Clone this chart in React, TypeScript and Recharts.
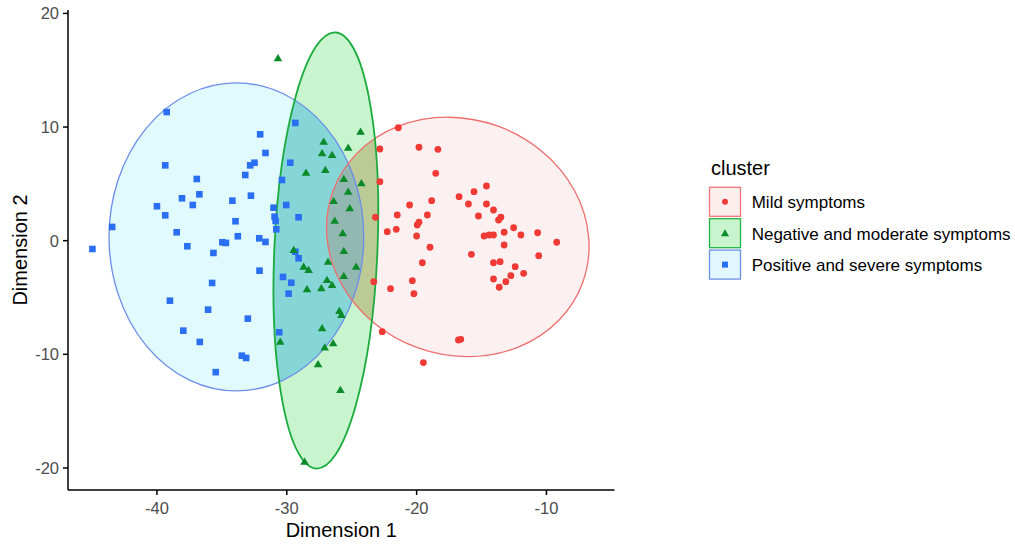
import { ReferenceArea, Scatter, ScatterChart, XAxis, YAxis } from "recharts";

type Pt = { x: number; y: number };

const xDomain: [number, number] = [-46.85, -4.76];
const yDomain: [number, number] = [-21.94, 20.3];
const xTicks = [-40, -30, -20, -10];
const yTicks = [-20, -10, 0, 10, 20];

const clusterNames = ["Mild symptoms", "Negative and moderate symptoms", "Positive and severe symptoms"];

const mild: Pt[] = [
  { x: -21.41, y: 9.94 }, { x: -22.83, y: 8.07 }, { x: -19.82, y: 8.22 }, { x: -18.36, y: 8.04 },
  { x: -18.53, y: 5.93 }, { x: -22.83, y: 5.19 }, { x: -14.62, y: 4.81 }, { x: -15.58, y: 4.31 },
  { x: -16.73, y: 3.87 }, { x: -18.84, y: 3.52 }, { x: -20.54, y: 3.14 }, { x: -16.01, y: 3.23 },
  { x: -14.62, y: 3.23 }, { x: -14.08, y: 2.7 }, { x: -23.17, y: 2.06 }, { x: -21.49, y: 2.26 },
  { x: -19.17, y: 2.26 }, { x: -15.24, y: 2.17 }, { x: -13.51, y: 2.06 }, { x: -13.69, y: 1.82 },
  { x: -19.82, y: 1.62 }, { x: -19.95, y: 1.38 }, { x: -22.26, y: 0.79 }, { x: -21.57, y: 1.0 },
  { x: -12.53, y: 1.14 }, { x: -13.26, y: 0.74 }, { x: -11.97, y: 0.5 }, { x: -10.68, y: 0.7 },
  { x: -20.0, y: 0.41 }, { x: -14.8, y: 0.41 }, { x: -14.42, y: 0.5 }, { x: -14.08, y: 0.5 },
  { x: -9.21, y: -0.14 }, { x: -13.26, y: -0.38 }, { x: -18.97, y: -0.58 }, { x: -15.78, y: -1.2 },
  { x: -10.6, y: -1.32 }, { x: -19.56, y: -1.94 }, { x: -14.08, y: -1.94 }, { x: -13.57, y: -1.85 },
  { x: -12.41, y: -2.29 }, { x: -11.76, y: -2.87 }, { x: -12.74, y: -3.08 }, { x: -13.13, y: -3.61 },
  { x: -14.08, y: -3.37 }, { x: -13.64, y: -4.1 }, { x: -23.3, y: -3.61 }, { x: -22.01, y: -4.22 },
  { x: -20.33, y: -3.52 }, { x: -20.21, y: -4.66 }, { x: -22.65, y: -8.01 }, { x: -16.78, y: -8.74 },
  { x: -16.6, y: -8.68 }, { x: -19.48, y: -10.73 },
];

const negative: Pt[] = [
  { x: -30.68, y: 16.05 }, { x: -24.32, y: 9.59 }, { x: -27.16, y: 8.71 }, { x: -25.27, y: 8.18 },
  { x: -27.28, y: 7.69 }, { x: -26.51, y: 7.54 }, { x: -27.03, y: 6.22 }, { x: -28.52, y: 5.98 },
  { x: -25.61, y: 5.43 }, { x: -24.25, y: 5.05 }, { x: -25.27, y: 4.31 }, { x: -26.39, y: 3.49 },
  { x: -25.15, y: 2.85 }, { x: -26.31, y: 1.76 }, { x: -25.69, y: 0.65 }, { x: -29.47, y: -0.82 },
  { x: -25.61, y: -0.91 }, { x: -26.82, y: -1.85 }, { x: -28.7, y: -2.29 }, { x: -28.32, y: -2.58 },
  { x: -24.66, y: -2.29 }, { x: -25.61, y: -3.11 }, { x: -26.9, y: -3.46 }, { x: -26.51, y: -3.9 },
  { x: -28.44, y: -4.28 }, { x: -27.34, y: -4.19 }, { x: -25.95, y: -6.19 }, { x: -25.79, y: -6.54 },
  { x: -27.28, y: -7.71 }, { x: -30.5, y: -8.89 }, { x: -27.08, y: -9.41 }, { x: -26.43, y: -9.03 },
  { x: -27.59, y: -10.88 }, { x: -25.87, y: -13.14 }, { x: -28.63, y: -19.45 },
];

const positive: Pt[] = [
  { x: -39.25, y: 11.32 }, { x: -32.05, y: 9.36 }, { x: -31.64, y: 7.72 }, { x: -39.36, y: 6.63 },
  { x: -32.82, y: 6.63 }, { x: -32.49, y: 6.86 }, { x: -33.2, y: 5.78 }, { x: -36.93, y: 5.43 },
  { x: -38.07, y: 3.73 }, { x: -36.73, y: 4.08 }, { x: -37.24, y: 3.14 }, { x: -34.19, y: 3.52 },
  { x: -32.76, y: 3.96 }, { x: -40.0, y: 3.03 }, { x: -39.36, y: 2.23 }, { x: -43.45, y: 1.21 },
  { x: -33.95, y: 1.71 }, { x: -38.48, y: 0.74 }, { x: -33.77, y: 0.39 }, { x: -34.96, y: -0.14 },
  { x: -34.69, y: -0.2 }, { x: -37.66, y: -0.49 }, { x: -35.65, y: -1.08 }, { x: -32.12, y: 0.21 },
  { x: -31.64, y: -0.11 }, { x: -44.97, y: -0.73 }, { x: -32.1, y: -2.64 }, { x: -35.75, y: -3.72 },
  { x: -39.0, y: -5.28 }, { x: -36.06, y: -6.07 }, { x: -33.0, y: -6.86 }, { x: -37.97, y: -7.92 },
  { x: -36.7, y: -8.91 }, { x: -33.46, y: -10.12 }, { x: -33.13, y: -10.32 }, { x: -35.47, y: -11.57 },
  { x: -31.02, y: 2.9 }, { x: -30.94, y: 2.11 }, { x: -30.86, y: 1.73 }, { x: -30.81, y: 1.0 },
  { x: -30.37, y: 5.34 }, { x: -29.73, y: 6.86 }, { x: -29.34, y: 10.36 }, { x: -30.04, y: 3.14 },
  { x: -29.09, y: 2.06 }, { x: -30.29, y: -3.19 }, { x: -29.65, y: -3.7 }, { x: -29.86, y: -4.66 },
  { x: -30.58, y: -8.06 }, { x: -29.34, y: -0.97 }, { x: -29.09, y: -1.55 },
];

// confidence ellipses: centre and semi-axes in data units, tilt in degrees
type Ell = { cx: number; cy: number; rx: number; ry: number; tilt: number };
const mildEllipse: Ell = { cx: -16.83, cy: 0.33, rx: 10.24, ry: 10.37, tilt: 20 };
const negativeEllipse: Ell = { cx: -26.99, cy: -0.86, rx: 3.97, ry: 19.21, tilt: 2.5 };
const positiveEllipse: Ell = { cx: -33.88, cy: 0.33, rx: 9.81, ry: 13.55, tilt: 0 };

const RED = "#f03a36";
const GREEN = "#0b8a2a";
const BLUE = "#2a6ef2";
const FONT = '"Liberation Sans", Arial, sans-serif';

function Ellipses(props: any) {
  const { x, y, width, height } = props;
  const kx = width / (xDomain[1] - xDomain[0]);
  const ky = height / (yDomain[1] - yDomain[0]);
  const sx = (v: number) => x + (v - xDomain[0]) * kx;
  const sy = (v: number) => y + (yDomain[1] - v) * ky;
  const el = (e: Ell, rest: any) => {
    const cx = sx(e.cx);
    const cy = sy(e.cy);
    return (
      <ellipse cx={cx} cy={cy} rx={e.rx * kx} ry={e.ry * ky} transform={`rotate(${e.tilt} ${cx} ${cy})`} {...rest} />
    );
  };
  return (
    <g>
      <defs>
        <clipPath id="clip-pos">{el(positiveEllipse, {})}</clipPath>
        <clipPath id="clip-mild">{el(mildEllipse, {})}</clipPath>
      </defs>
      {el(positiveEllipse, { fill: "#e1fafe" })}
      {el(negativeEllipse, { fill: "#c8f5cd" })}
      {el(mildEllipse, { fill: "#fdf0f0" })}
      <g clipPath="url(#clip-pos)">{el(negativeEllipse, { fill: "#86d6d8" })}</g>
      <g clipPath="url(#clip-mild)">
        {el(negativeEllipse, { fill: "#bccb96" })}
        <g clipPath="url(#clip-pos)">{el(negativeEllipse, { fill: "#93b8b2" })}</g>
      </g>
      {el(positiveEllipse, { fill: "none", stroke: "#6b8de8", strokeWidth: 1.3 })}
      {el(mildEllipse, { fill: "none", stroke: "#ee6e6e", strokeWidth: 1.3 })}
      {el(negativeEllipse, { fill: "none", stroke: "#1aac3c", strokeWidth: 1.8 })}
    </g>
  );
}

const Dot = (p: any) => <circle cx={p.cx} cy={p.cy} r={3.4} fill={RED} />;
const Tri = (p: any) => (
  <path d={`M${p.cx},${p.cy - 4.3}L${p.cx + 4.3},${p.cy + 3}L${p.cx - 4.3},${p.cy + 3}Z`} fill={GREEN} />
);
const Sq = (p: any) => <rect x={p.cx - 3.3} y={p.cy - 3.3} width={6.6} height={6.6} fill={BLUE} />;

function ClusterLegend() {
  const rows = [
    { stroke: "#ee7777", fill: "#fdeeee", mark: (cx: number, cy: number) => <circle cx={cx} cy={cy} r={3} fill={RED} /> },
    {
      stroke: "#22b447",
      fill: "#c8f5cd",
      mark: (cx: number, cy: number) => (
        <path d={`M${cx},${cy - 4}L${cx + 4},${cy + 3}L${cx - 4},${cy + 3}Z`} fill={GREEN} />
      ),
    },
    { stroke: "#6f90ea", fill: "#e1f6fe", mark: (cx: number, cy: number) => <rect x={cx - 3} y={cy - 3} width={6} height={6} fill={BLUE} /> },
  ];
  return (
    <svg width={312} height={150} style={{ position: "absolute", left: 703, top: 148, fontFamily: FONT }}>
      <text x={8} y={27} fontSize={20} fill="#000">cluster</text>
      {rows.map((r, i) => {
        const top = 39.3 + i * 31.4;
        return (
          <g key={clusterNames[i]}>
            <rect x={6.5} y={top} width={31} height={29} fill={r.fill} stroke={r.stroke} strokeWidth={1.3} />
            {r.mark(22, top + 14.5)}
            <text x={48.7} y={top + 21} fontSize={17} fill="#000">{clusterNames[i]}</text>
          </g>
        );
      })}
    </svg>
  );
}

export default function App() {
  return (
    <div style={{ position: "fixed", left: 0, top: 0, width: 1015, height: 546, background: "#fff", fontFamily: FONT }}>
      <ScatterChart width={628} height={546} margin={{ top: 10, right: 13.5, bottom: 0, left: 0 }} style={{ fontFamily: FONT }}>
        <XAxis
          type="number"
          dataKey="x"
          domain={xDomain}
          ticks={xTicks}
          interval={0}
          allowDataOverflow
          height={56}
          axisLine={{ stroke: "#000", strokeWidth: 1.5 }}
          tickLine={{ stroke: "#000", strokeWidth: 1.5 }}
          tickSize={5}
          tickMargin={7}
          tick={{ fill: "#4d4d4d", fontSize: 16.5 }}
          label={{ value: "Dimension 1", position: "insideBottom", offset: 9, fill: "#000", fontSize: 20 }}
        />
        <YAxis
          type="number"
          dataKey="y"
          domain={yDomain}
          ticks={yTicks}
          interval={0}
          allowDataOverflow
          width={68}
          axisLine={{ stroke: "#000", strokeWidth: 1.5 }}
          tickLine={{ stroke: "#000", strokeWidth: 1.5 }}
          tickSize={5}
          tickMargin={4}
          tick={{ fill: "#4d4d4d", fontSize: 16.5 }}
          label={{
            value: "Dimension 2",
            angle: -90,
            position: "insideLeft",
            offset: 20,
            fill: "#000",
            fontSize: 20,
            style: { textAnchor: "middle" },
          }}
        />
        <ReferenceArea
          x1={xDomain[0]}
          x2={xDomain[1]}
          y1={yDomain[0]}
          y2={yDomain[1]}
          ifOverflow="visible"
          shape={Ellipses}
        />
        <Scatter name={clusterNames[2]} data={positive} shape={Sq} isAnimationActive={false} />
        <Scatter name={clusterNames[1]} data={negative} shape={Tri} isAnimationActive={false} />
        <Scatter name={clusterNames[0]} data={mild} shape={Dot} isAnimationActive={false} />
      </ScatterChart>
      <ClusterLegend />
    </div>
  );
}
